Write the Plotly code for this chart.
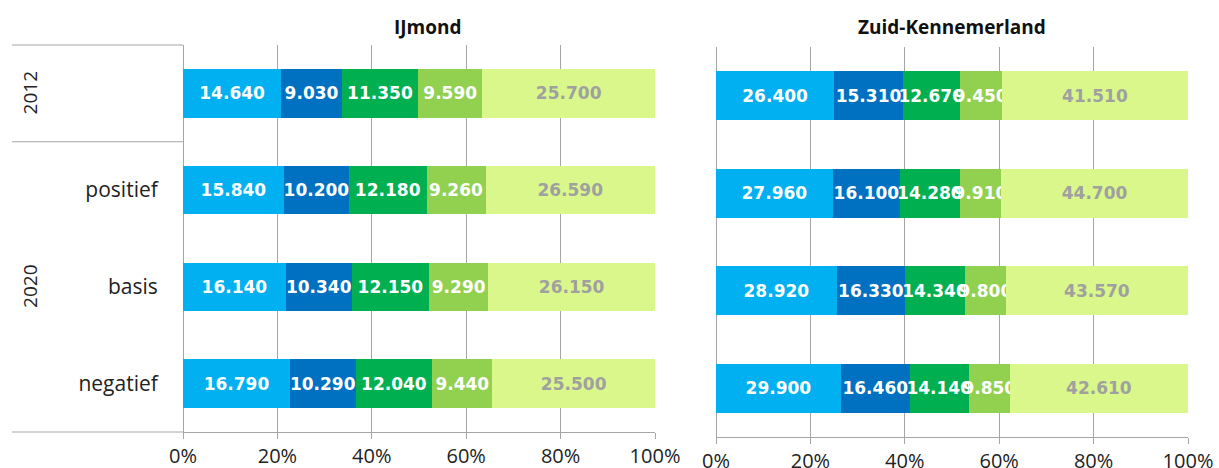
import plotly.graph_objects as go

rows = ["2012", "positief", "basis", "negatief"]
row_labels = ["", "positief", "basis", "negatief"]
segments = ["s1", "s2", "s3", "s4", "s5"]
colors = ["#00B0F0", "#0070C0", "#00B050", "#92D050", "#D9F78A"]
text_colors = ["white", "white", "white", "white", "#A0A0A0"]

ijmond = [
    [14640, 15840, 16140, 16790],
    [9030, 10200, 10340, 10290],
    [11350, 12180, 12150, 12040],
    [9590, 9260, 9290, 9440],
    [25700, 26590, 26150, 25500],
]
zk = [
    [26400, 27960, 28920, 29900],
    [15310, 16100, 16330, 16460],
    [12670, 14280, 14340, 14140],
    [9450, 9910, 9800, 9850],
    [41510, 44700, 43570, 42610],
]
titles = ["IJmond", "Zuid-Kennemerland"]
x_ticks = [0, 20, 40, 60, 80, 100]
group_labels = ["2012", "2020"]


def fmt(v):
    return f"{v:,}".replace(",", ".")


fig = go.Figure()
for panel, data in enumerate([ijmond, zk]):
    xa = "x" if panel == 0 else "x2"
    ya = "y" if panel == 0 else "y2"
    for i, seg in enumerate(segments):
        fig.add_trace(go.Bar(
            y=rows, x=data[i], orientation="h", name=seg,
            marker=dict(color=colors[i], line=dict(width=0)),
            text=[fmt(v) for v in data[i]],
            textposition="inside", insidetextanchor="middle",
            textangle=0, constraintext="none", cliponaxis=False,
            insidetextfont=dict(family="DejaVu Sans", size=17, color=text_colors[i], weight="bold"),
            xaxis=xa, yaxis=ya, showlegend=False, hoverinfo="skip",
        ))

grid = "#A6A6A6"
axis_common = dict(range=[0, 100], tickvals=x_ticks, ticktext=[f"{t}%" for t in x_ticks],
                   showgrid=True, gridcolor=grid, gridwidth=1, zeroline=True, zerolinecolor=grid,
                   zerolinewidth=1, automargin=False,
                   showline=True, linecolor=grid, linewidth=1, ticks="outside", ticklen=6,
                   tickcolor=grid, ticklabelstandoff=0,
                   tickfont=dict(family="Open Sans", size=20, color="#222222"),
                   fixedrange=True)

fig.update_layout(
    width=1219, height=468, autosize=False,
    margin=dict(l=0, r=0, t=0, b=0, pad=0),
    paper_bgcolor="white", plot_bgcolor="white",
    barmode="stack", barnorm="percent", bargap=0.5,
    xaxis=dict(domain=[183 / 1219, 655 / 1219], anchor="y", **axis_common),
    xaxis2=dict(domain=[716 / 1219, 1188 / 1219], anchor="y2", **axis_common),
    yaxis=dict(domain=[1 - 432 / 468, 1 - 45 / 468], anchor="x", type="category",
               categoryorder="array", categoryarray=rows, autorange=False, range=[3.5, -0.5],
               tickvals=rows, ticktext=row_labels, showgrid=False, zeroline=False,
               showline=False, ticks="outside", ticklen=20, tickcolor="rgba(0,0,0,0)",
               automargin=False,
               tickfont=dict(family="Open Sans", size=21, color="#222222")),
    yaxis2=dict(domain=[1 - 437 / 468, 1 - 47 / 468], anchor="x2", type="category",
                categoryorder="array", categoryarray=rows, autorange=False, range=[3.5, -0.5],
                showticklabels=False, showgrid=False, zeroline=False, showline=False,
                automargin=False),
)

# titles
for k, xr in enumerate(["x domain", "x2 domain"]):
    fig.add_annotation(text=f"<b>{titles[k]}</b>", x=0.52 if k == 0 else 0.5, xref=xr,
                       y=1 - 27 / 468, yref="paper",
                       xanchor="center", yanchor="middle", showarrow=False,
                       font=dict(family="Open Sans", size=19, color="#111111"))

# group labels (rotated)
fig.add_annotation(text=group_labels[0], x=30 / 1219, xref="paper", y=0, yref="y",
                   xanchor="center", yanchor="middle",
                   textangle=-90, showarrow=False, font=dict(family="Open Sans", size=19, color="#222222"))
fig.add_annotation(text=group_labels[1], x=30 / 1219, xref="paper", y=2, yref="y",
                   xanchor="center", yanchor="middle",
                   textangle=-90, showarrow=False, font=dict(family="Open Sans", size=19, color="#222222"))

# category table lines
line = dict(color=grid, width=1)
fig.add_shape(type="line", xref="paper", yref="paper", x0=12 / 1219, x1=183 / 1219,
              y0=1 - 45 / 468, y1=1 - 45 / 468, line=line)
fig.add_shape(type="line", xref="paper", yref="y", x0=12 / 1219, x1=183 / 1219,
              y0=0.5, y1=0.5, line=line)
fig.add_shape(type="line", xref="paper", yref="paper", x0=12 / 1219, x1=183 / 1219,
              y0=1 - 432 / 468, y1=1 - 432 / 468, line=line)

fig.write_html("out.html")
